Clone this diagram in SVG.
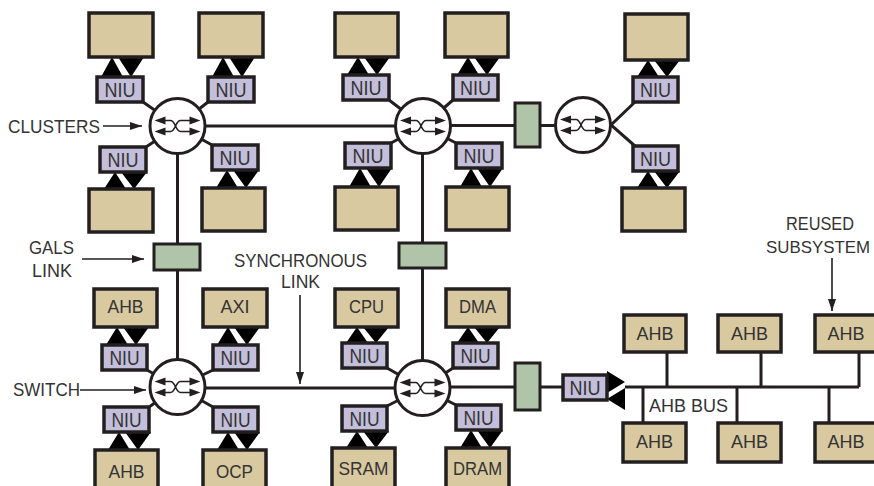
<svg xmlns="http://www.w3.org/2000/svg" xmlns:xlink="http://www.w3.org/1999/xlink" width="874" height="486" viewBox="0 0 874 486">
<style>
.box{fill:#d9c9a1;stroke:#231f20;stroke-width:3.5}
.niu{fill:#c3bed9;stroke:#231f20;stroke-width:3.5}
.gals{fill:#afc4a8;stroke:#231f20;stroke-width:3}
.ln{fill:none;stroke:#231f20;stroke-width:3}
.la{fill:none;stroke:#231f20;stroke-width:1.6}
.tri{fill:#000}
text{font-family:"Liberation Sans",Arial,sans-serif;fill:#333}
.lbl{font-size:19px}
.bt{font-size:18px;text-anchor:middle}
.nt{font-size:20px;text-anchor:middle}
</style>
<defs>
<marker id="ah" markerWidth="12" markerHeight="8" refX="12" refY="4" orient="auto" markerUnits="userSpaceOnUse"><path d="M0,0 L12,4 L0,8 Z" fill="#231f20"/></marker>
<path id="tv" d="M4,20 L26,20 L15,0 Z M21,0 L47,0 L34,20 Z"/>
<g id="sw">
<circle r="27.5" fill="#fff" stroke="#231f20" stroke-width="3"/>
<path d="M-14,-5.5 H-7 C-2,-5.5 -2,5.5 3,5.5 H14 M-14,5.5 H-7 C-2,5.5 -2,-5.5 3,-5.5 H14" fill="none" stroke="#231f20" stroke-width="1.6"/>
<path d="M-23,-5.5 L-12,-9.5 L-12,-1.5 Z M-23,5.5 L-12,1.5 L-12,9.5 Z M23,-5.5 L12,-9.5 L12,-1.5 Z M23,5.5 L12,1.5 L12,9.5 Z" fill="#231f20"/>
</g>
</defs>

<g id="connectors">
<path class="ln" d="M177.5,126 H423 M423,125.5 H583 M177.5,126 V387 M422.5,126 V388 M177.5,388 H422.5 M422.5,387 H563"/>
<path class="ln" d="M625,387 H859 M667,352 V387 M761,352 V387 M859,352 V387 M643,387 V423 M737,387 V423 M829,387 V423"/>
<path class="ln" d="M177.5,126 L143,102 M177.5,126 L208,102 M177.5,126 L146,147 M177.5,126 L212,145"/>
<path class="ln" d="M423,126 L389,100 M423,126 L453,100 M423,126 L391,143 M423,126 L456,143"/>
<path class="ln" d="M635,102 L611,125 L635,146"/>
<path class="ln" d="M177.5,387 L147,370 M177.5,387 L213,370 M177.5,387 L149,407 M177.5,387 L213,407"/>
<path class="ln" d="M422.5,388 L387,368 M422.5,388 L453,368 M422.5,388 L387,406 M422.5,388 L456,405"/>
<g class="tri">
<use xlink:href="#tv" transform="translate(97,57)"/>
<use xlink:href="#tv" transform="translate(208,57)"/>
<use xlink:href="#tv" transform="translate(100,172) scale(1,0.85)"/>
<use xlink:href="#tv" transform="translate(212,170) scale(1,0.9)"/>
<use xlink:href="#tv" transform="translate(343,57) scale(1,0.9)"/>
<use xlink:href="#tv" transform="translate(453,57) scale(1,0.9)"/>
<use xlink:href="#tv" transform="translate(345,168) scale(1,0.95)"/>
<use xlink:href="#tv" transform="translate(456,168) scale(1,0.95)"/>
<use xlink:href="#tv" transform="translate(633,60) scale(1,0.85)"/>
<use xlink:href="#tv" transform="translate(633,171) scale(1,0.85)"/>
<use xlink:href="#tv" transform="translate(102,327) scale(1,0.9)"/>
<use xlink:href="#tv" transform="translate(213,327) scale(1,0.9)"/>
<use xlink:href="#tv" transform="translate(104,432) scale(1,0.9)"/>
<use xlink:href="#tv" transform="translate(213,432) scale(1,0.9)"/>
<use xlink:href="#tv" transform="translate(342,327) scale(1,0.8)"/>
<use xlink:href="#tv" transform="translate(453,327) scale(1,0.8)"/>
<use xlink:href="#tv" transform="translate(342,431) scale(1,0.85)"/>
<use xlink:href="#tv" transform="translate(456,430) scale(1,0.9)"/>
<path d="M607,371 L607,393 L625,382 Z M625,388 L625,410 L607,399 Z"/>
</g>
<path class="la" d="M103,126 H142" marker-end="url(#ah)"/>
<path class="la" d="M82,259 H144" marker-end="url(#ah)"/>
<path class="la" d="M80,390 H146" marker-end="url(#ah)"/>
<path class="la" d="M300,295 V384" marker-end="url(#ah)"/>
<path class="la" d="M832,258 V311" marker-end="url(#ah)"/>
</g>

<g id="switch-a"><use xlink:href="#sw" x="177.5" y="126"/></g>
<g id="switch-b"><use xlink:href="#sw" x="423" y="126"/></g>
<g id="switch-e"><use xlink:href="#sw" x="583" y="125"/></g>
<g id="switch-c"><use xlink:href="#sw" x="177.5" y="387"/></g>
<g id="switch-d"><use xlink:href="#sw" x="422.5" y="388"/></g>

<g id="gals-1"><rect class="gals" x="515" y="103" width="25" height="44"/></g>
<g id="gals-2"><rect class="gals" x="154" y="244" width="46" height="26"/></g>
<g id="gals-3"><rect class="gals" x="399" y="243" width="47" height="25"/></g>
<g id="gals-4"><rect class="gals" x="515" y="363" width="25" height="47"/></g>

<!-- cluster A -->
<g id="a-box-tl"><rect class="box" x="89" y="13" width="64" height="44"/></g>
<g id="a-box-tr"><rect class="box" x="199" y="13" width="64" height="44"/></g>
<g id="a-box-bl"><rect class="box" x="89" y="189" width="64" height="43"/></g>
<g id="a-box-br"><rect class="box" x="202" y="188" width="63" height="43"/></g>
<g id="a-niu-tl"><rect class="niu" x="97" y="77" width="46" height="25"/><text class="nt" x="120" y="96.5" textLength="31" lengthAdjust="spacingAndGlyphs">NIU</text></g>
<g id="a-niu-tr"><rect class="niu" x="208" y="77" width="46" height="25"/><text class="nt" x="231" y="96.5" textLength="31" lengthAdjust="spacingAndGlyphs">NIU</text></g>
<g id="a-niu-bl"><rect class="niu" x="100" y="147" width="46" height="25"/><text class="nt" x="123" y="166.5" textLength="31" lengthAdjust="spacingAndGlyphs">NIU</text></g>
<g id="a-niu-br"><rect class="niu" x="212" y="145" width="46" height="25"/><text class="nt" x="235" y="164.5" textLength="31" lengthAdjust="spacingAndGlyphs">NIU</text></g>

<!-- cluster B -->
<g id="b-box-tl"><rect class="box" x="335" y="13" width="63" height="44"/></g>
<g id="b-box-tr"><rect class="box" x="445" y="13" width="63" height="44"/></g>
<g id="b-box-bl"><rect class="box" x="335" y="187" width="63" height="43"/></g>
<g id="b-box-br"><rect class="box" x="446" y="187" width="63" height="43"/></g>
<g id="b-niu-tl"><rect class="niu" x="343" y="75" width="46" height="25"/><text class="nt" x="366" y="94.5" textLength="31" lengthAdjust="spacingAndGlyphs">NIU</text></g>
<g id="b-niu-tr"><rect class="niu" x="453" y="75" width="45" height="25"/><text class="nt" x="475.5" y="94.5" textLength="31" lengthAdjust="spacingAndGlyphs">NIU</text></g>
<g id="b-niu-bl"><rect class="niu" x="345" y="143" width="46" height="25"/><text class="nt" x="368" y="162.5" textLength="31" lengthAdjust="spacingAndGlyphs">NIU</text></g>
<g id="b-niu-br"><rect class="niu" x="456" y="143" width="46" height="25"/><text class="nt" x="479" y="162.5" textLength="31" lengthAdjust="spacingAndGlyphs">NIU</text></g>

<!-- cluster E -->
<g id="e-box-t"><rect class="box" x="625" y="14" width="63" height="46"/></g>
<g id="e-box-b"><rect class="box" x="622" y="188" width="63" height="43"/></g>
<g id="e-niu-t"><rect class="niu" x="633" y="77" width="45" height="25"/><text class="nt" x="655.5" y="96.5" textLength="31" lengthAdjust="spacingAndGlyphs">NIU</text></g>
<g id="e-niu-b"><rect class="niu" x="633" y="146" width="45" height="25"/><text class="nt" x="655.5" y="165.5" textLength="31" lengthAdjust="spacingAndGlyphs">NIU</text></g>

<!-- cluster C -->
<g id="c-ahb-t"><rect class="box" x="94" y="289" width="63" height="38"/><text class="bt" x="125.5" y="313" textLength="36" lengthAdjust="spacingAndGlyphs">AHB</text></g>
<g id="c-axi"><rect class="box" x="203" y="289" width="64" height="38"/><text class="bt" x="235" y="313">AXI</text></g>
<g id="c-ahb-b"><rect class="box" x="95" y="450" width="63" height="44"/><text class="bt" x="126.5" y="478" textLength="36" lengthAdjust="spacingAndGlyphs">AHB</text></g>
<g id="c-ocp"><rect class="box" x="203" y="450" width="63" height="44"/><text class="bt" x="234.5" y="478" textLength="37" lengthAdjust="spacingAndGlyphs">OCP</text></g>
<g id="c-niu-tl"><rect class="niu" x="102" y="345" width="45" height="25"/><text class="nt" x="124.5" y="364.5" textLength="30" lengthAdjust="spacingAndGlyphs">NIU</text></g>
<g id="c-niu-tr"><rect class="niu" x="213" y="345" width="45" height="25"/><text class="nt" x="235.5" y="364.5" textLength="30" lengthAdjust="spacingAndGlyphs">NIU</text></g>
<g id="c-niu-bl"><rect class="niu" x="104" y="407" width="45" height="25"/><text class="nt" x="126.5" y="426.5" textLength="30" lengthAdjust="spacingAndGlyphs">NIU</text></g>
<g id="c-niu-br"><rect class="niu" x="213" y="407" width="45" height="25"/><text class="nt" x="235.5" y="426.5" textLength="30" lengthAdjust="spacingAndGlyphs">NIU</text></g>

<!-- cluster D -->
<g id="d-cpu"><rect class="box" x="335" y="289" width="63" height="38"/><text class="bt" x="366.5" y="313" textLength="35" lengthAdjust="spacingAndGlyphs">CPU</text></g>
<g id="d-dma"><rect class="box" x="446" y="289" width="63" height="38"/><text class="bt" x="477.5" y="313" textLength="37" lengthAdjust="spacingAndGlyphs">DMA</text></g>
<g id="d-sram"><rect class="box" x="332" y="448" width="63" height="44"/><text class="bt" x="363.5" y="475" textLength="50" lengthAdjust="spacingAndGlyphs">SRAM</text></g>
<g id="d-dram"><rect class="box" x="446" y="448" width="63" height="44"/><text class="bt" x="477.5" y="475" textLength="49" lengthAdjust="spacingAndGlyphs">DRAM</text></g>
<g id="d-niu-tl"><rect class="niu" x="342" y="343" width="45" height="25"/><text class="nt" x="364.5" y="362.5" textLength="30" lengthAdjust="spacingAndGlyphs">NIU</text></g>
<g id="d-niu-tr"><rect class="niu" x="453" y="343" width="45" height="25"/><text class="nt" x="475.5" y="362.5" textLength="30" lengthAdjust="spacingAndGlyphs">NIU</text></g>
<g id="d-niu-bl"><rect class="niu" x="342" y="406" width="45" height="25"/><text class="nt" x="364.5" y="425.5" textLength="30" lengthAdjust="spacingAndGlyphs">NIU</text></g>
<g id="d-niu-br"><rect class="niu" x="456" y="405" width="45" height="25"/><text class="nt" x="478.5" y="424.5" textLength="30" lengthAdjust="spacingAndGlyphs">NIU</text></g>

<!-- AHB bus subsystem -->
<g id="bus-niu"><rect class="niu" x="563" y="375" width="44" height="25"/><text class="nt" x="585" y="394.5" textLength="31" lengthAdjust="spacingAndGlyphs">NIU</text></g>
<g id="bus-ahb-1"><rect class="box" x="624" y="315" width="62" height="37"/><text class="bt" x="655" y="340" textLength="37" lengthAdjust="spacingAndGlyphs">AHB</text></g>
<g id="bus-ahb-2"><rect class="box" x="718" y="315" width="63" height="37"/><text class="bt" x="749.5" y="340" textLength="37" lengthAdjust="spacingAndGlyphs">AHB</text></g>
<g id="bus-ahb-3"><rect class="box" x="815" y="315" width="62" height="37"/><text class="bt" x="846" y="340" textLength="37" lengthAdjust="spacingAndGlyphs">AHB</text></g>
<g id="bus-ahb-4"><rect class="box" x="623" y="423" width="63" height="39"/><text class="bt" x="654.5" y="448" textLength="37" lengthAdjust="spacingAndGlyphs">AHB</text></g>
<g id="bus-ahb-5"><rect class="box" x="718" y="423" width="63" height="39"/><text class="bt" x="749.5" y="448" textLength="37" lengthAdjust="spacingAndGlyphs">AHB</text></g>
<g id="bus-ahb-6"><rect class="box" x="815" y="423" width="62" height="39"/><text class="bt" x="846" y="448" textLength="37" lengthAdjust="spacingAndGlyphs">AHB</text></g>

<g id="labels">
<text class="lbl" x="8" y="133" textLength="92" lengthAdjust="spacingAndGlyphs">CLUSTERS</text>
<text class="lbl" x="29" y="254" textLength="45" lengthAdjust="spacingAndGlyphs">GALS</text>
<text class="lbl" x="32" y="277" textLength="40" lengthAdjust="spacingAndGlyphs">LINK</text>
<text class="lbl" x="13" y="396" textLength="67" lengthAdjust="spacingAndGlyphs">SWITCH</text>
<text class="lbl" x="234" y="266.5" textLength="133" lengthAdjust="spacingAndGlyphs">SYNCHRONOUS</text>
<text class="lbl" x="281" y="287.5" textLength="39" lengthAdjust="spacingAndGlyphs">LINK</text>
<text class="lbl" x="786" y="230" textLength="68" lengthAdjust="spacingAndGlyphs">REUSED</text>
<text x="766" y="253" font-size="17" textLength="104" lengthAdjust="spacingAndGlyphs">SUBSYSTEM</text>
<text class="lbl" x="649" y="411.5" textLength="79" lengthAdjust="spacingAndGlyphs">AHB BUS</text>
</g>
</svg>
